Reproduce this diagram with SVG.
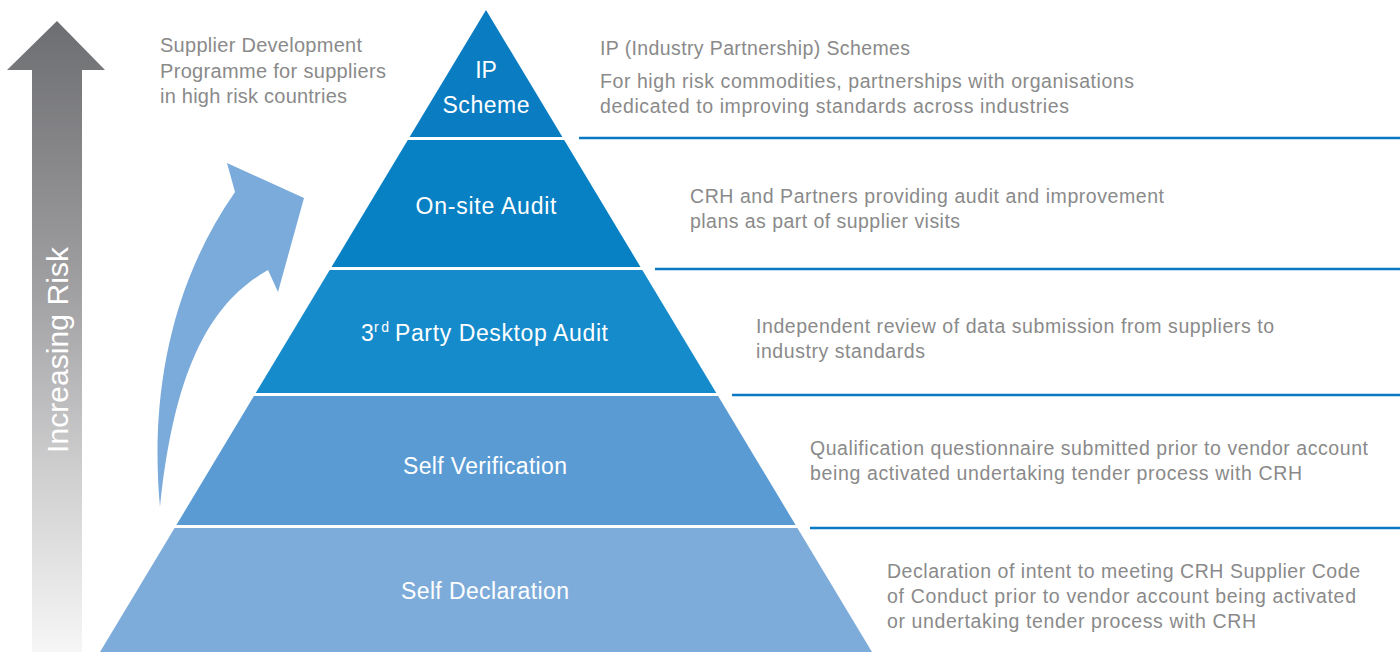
<svg xmlns="http://www.w3.org/2000/svg" width="1400" height="652" viewBox="0 0 1400 652">
<defs>
<linearGradient id="riskGrad" gradientUnits="userSpaceOnUse" x1="0" y1="21" x2="0" y2="652">
<stop offset="0" stop-color="#6d6e71"/>
<stop offset="0.44" stop-color="#a2a1a4"/>
<stop offset="0.71" stop-color="#cfcecf"/>
<stop offset="1" stop-color="#f6f6f6"/>
</linearGradient>
<style>
.lbl{font-family:"Liberation Sans",Arial,sans-serif;fill:#ffffff;font-size:23px;text-anchor:middle}
.lbl3{font-family:"Liberation Sans",Arial,sans-serif;fill:#ffffff;font-size:23px}
.sup{font-family:"Liberation Sans",Arial,sans-serif;fill:#ffffff;font-size:14px}
.desc{font-family:"Liberation Sans",Arial,sans-serif;fill:#8a8a8a;font-size:19.5px}
.side{font-family:"Liberation Sans",Arial,sans-serif;fill:#8a8a8a;font-size:20px}
.sep{stroke:#0a78c2;stroke-width:2.5;fill:none}
</style>
</defs>
<rect x="0" y="0" width="1400" height="652" fill="#ffffff"/>

<g id="risk-arrow">
<polygon points="57,21 105,70 82,70 82,652 32,652 32,70 7,70" fill="url(#riskGrad)"/>
<text transform="translate(68,350) rotate(-90)" font-family="Liberation Sans, Arial, sans-serif" font-size="30" fill="#ffffff" text-anchor="middle" textLength="206" lengthAdjust="spacing">Increasing Risk</text>
</g>

<g id="supplier-development">
<path d="M160,507 C152,420 160,300 235,192 L227,163 L304,198 L278,292 L268,270 C215,300 175,360 160,507 Z" fill="#7aabdb"/>
<text class="side" x="160" y="52" textLength="202" lengthAdjust="spacing">Supplier Development</text>
<text class="side" x="160" y="78" textLength="226" lengthAdjust="spacing">Programme for suppliers</text>
<text class="side" x="160" y="103" textLength="187" lengthAdjust="spacing">in high risk countries</text>
</g>

<g id="level-ip-scheme">
<polygon points="486,10 562.4,137 409.6,137" fill="#0a7cc2"/>
<text class="lbl" x="486" y="78">IP</text>
<text class="lbl" x="486" y="113" textLength="87" lengthAdjust="spacing">Scheme</text>
</g>

<g id="level-onsite-audit">
<polygon points="407.8,140 564.2,140 640.5,267 331.5,267" fill="#0880c4"/>
<text class="lbl" x="486" y="214" textLength="141" lengthAdjust="spacing">On-site Audit</text>
</g>

<g id="level-desktop-audit">
<polygon points="329.7,270 642.3,270 716.3,393 255.7,393" fill="#168bcb"/>
<text class="lbl3" x="361" y="341">3</text>
<text class="sup" x="374" y="332" textLength="15" lengthAdjust="spacing">rd</text>
<text class="lbl3" x="395" y="341" textLength="213" lengthAdjust="spacing">Party Desktop Audit</text>
</g>

<g id="level-self-verification">
<polygon points="253.9,396 718.1,396 795.6,525 176.4,525" fill="#5a9bd4"/>
<text class="lbl" x="485" y="474" textLength="164" lengthAdjust="spacing">Self Verification</text>
</g>

<g id="level-self-declaration">
<polygon points="174.6,528 797.4,528 872,652 100,652" fill="#7eacda"/>
<text class="lbl" x="485" y="599" textLength="168" lengthAdjust="spacing">Self Declaration</text>
</g>

<g id="connectors">
<line class="sep" x1="579" y1="138" x2="1400" y2="138"/>
<line class="sep" x1="655" y1="269" x2="1400" y2="269"/>
<line class="sep" x1="732" y1="395" x2="1400" y2="395"/>
<line class="sep" x1="810" y1="528" x2="1400" y2="528"/>
</g>

<g id="desc-ip-scheme">
<text class="desc" x="600" y="55" textLength="310" lengthAdjust="spacing">IP (Industry Partnership) Schemes</text>
<text class="desc" x="600" y="88" textLength="534" lengthAdjust="spacing">For high risk commodities, partnerships with organisations</text>
<text class="desc" x="600" y="113" textLength="469" lengthAdjust="spacing">dedicated to improving standards across industries</text>
</g>

<g id="desc-onsite-audit">
<text class="desc" x="690" y="203" textLength="474" lengthAdjust="spacing">CRH and Partners providing audit and improvement</text>
<text class="desc" x="690" y="228" textLength="270" lengthAdjust="spacing">plans as part of supplier visits</text>
</g>

<g id="desc-desktop-audit">
<text class="desc" x="756" y="333" textLength="518" lengthAdjust="spacing">Independent review of data submission from suppliers to</text>
<text class="desc" x="756" y="358" textLength="169" lengthAdjust="spacing">industry standards</text>
</g>

<g id="desc-self-verification">
<text class="desc" x="810" y="455" textLength="558" lengthAdjust="spacing">Qualification questionnaire submitted prior to vendor account</text>
<text class="desc" x="810" y="480" textLength="492" lengthAdjust="spacing">being activated undertaking tender process with CRH</text>
</g>

<g id="desc-self-declaration">
<text class="desc" x="887" y="578" textLength="473" lengthAdjust="spacing">Declaration of intent to meeting CRH Supplier Code</text>
<text class="desc" x="887" y="603" textLength="469" lengthAdjust="spacing">of Conduct prior to vendor account being activated</text>
<text class="desc" x="887" y="628" textLength="369" lengthAdjust="spacing">or undertaking tender process with CRH</text>
</g>
</svg>
